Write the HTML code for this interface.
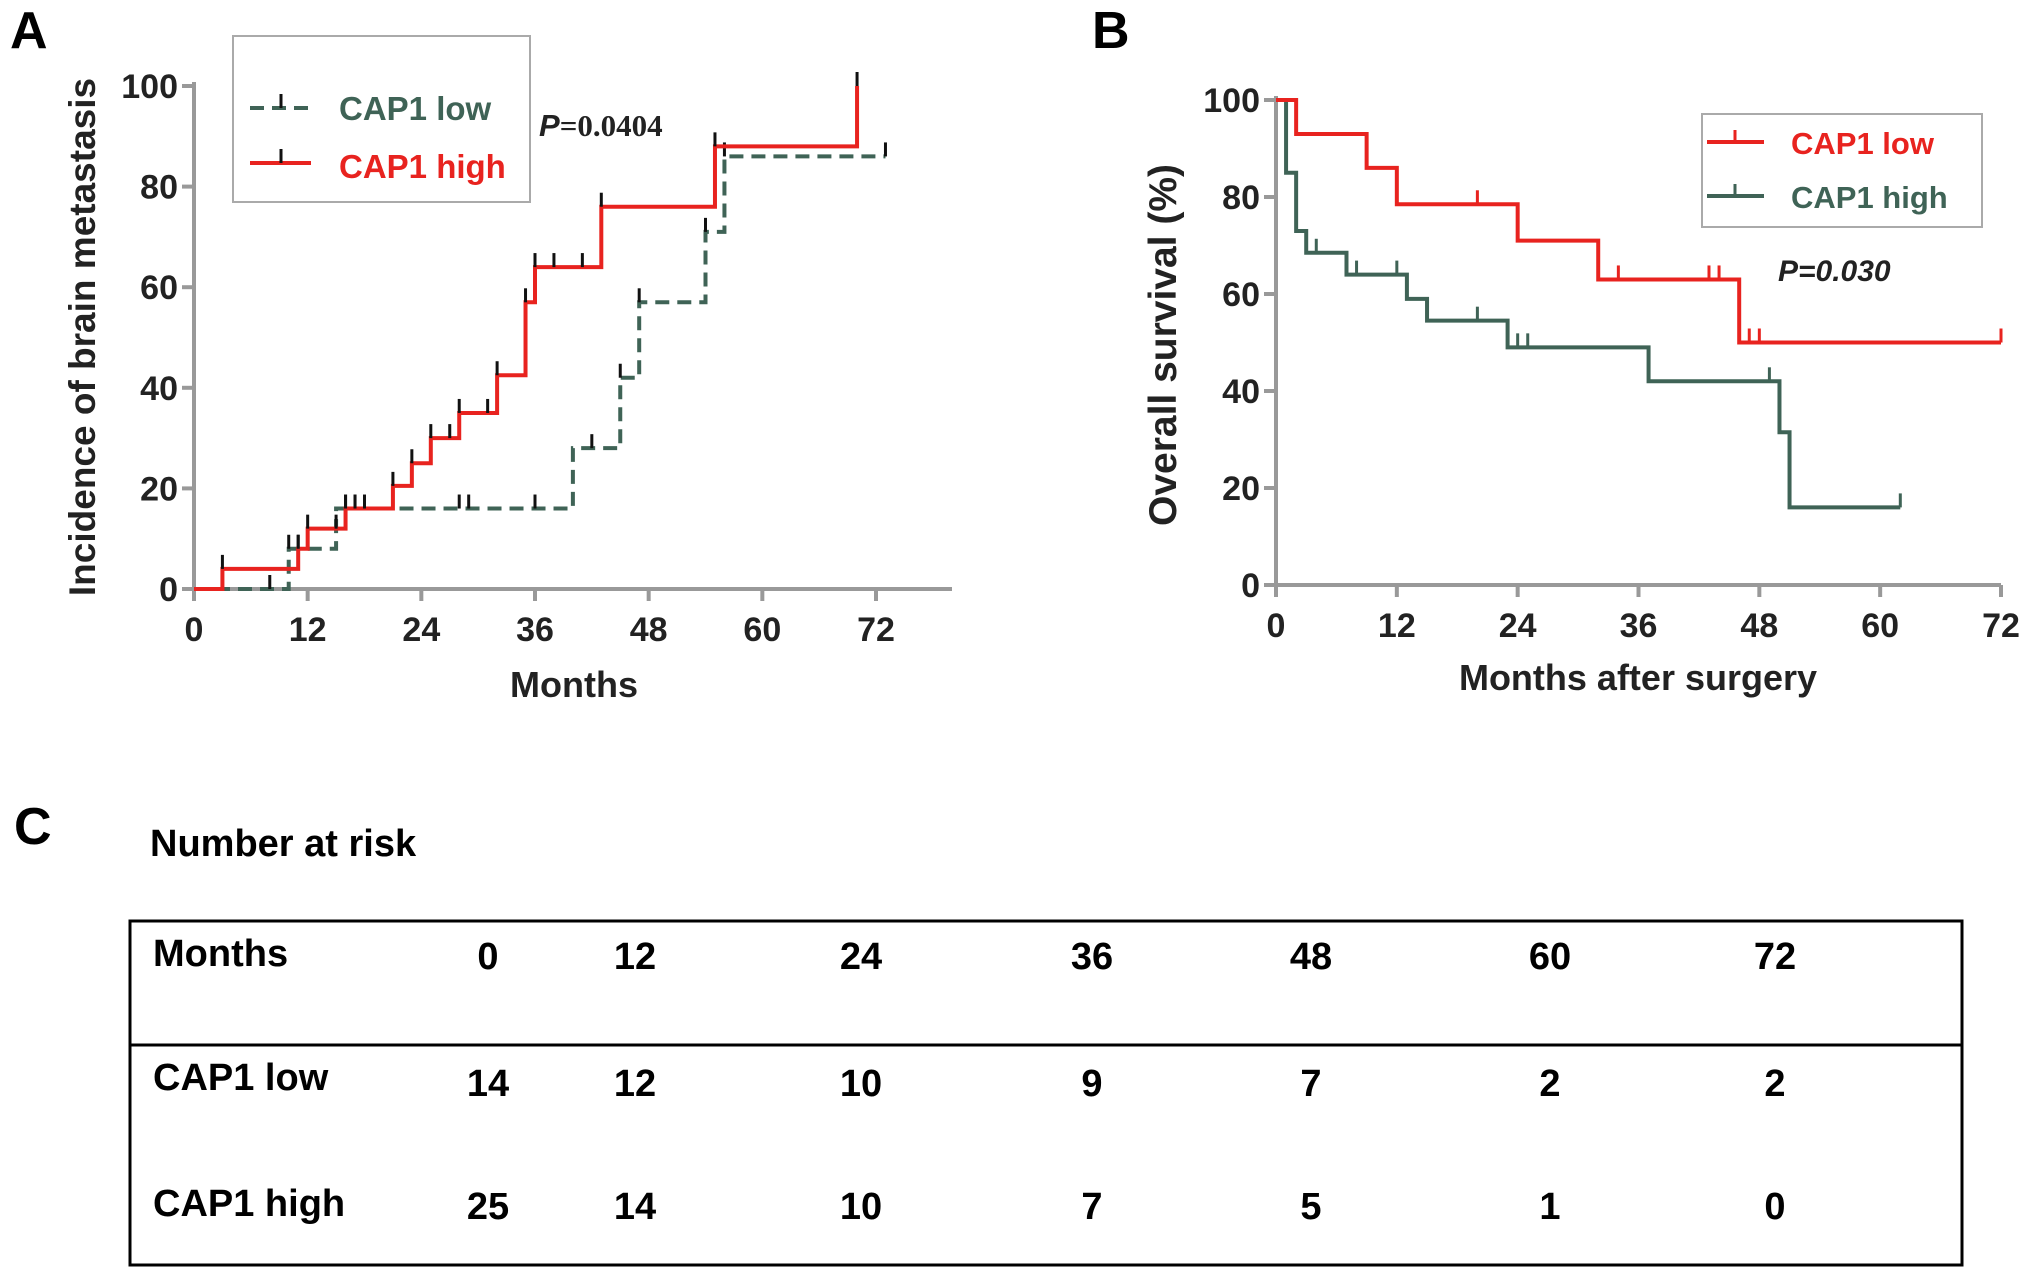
<!DOCTYPE html>
<html><head><meta charset="utf-8"><style>
body{margin:0;background:#fff;width:2031px;height:1281px;overflow:hidden;font-family:"Liberation Sans",sans-serif}
svg{position:absolute;left:0;top:0}
text{font-family:"Liberation Sans",sans-serif;font-weight:bold}
</style></head><body>
<svg id="s" width="2031" height="1281">
<text x="10" y="48" font-size="52">A</text>
<text x="1092" y="48" font-size="52">B</text>
<text x="14" y="844" font-size="52">C</text>
<text x="150" y="856" font-size="38">Number at risk</text>
<g id="A"></g><g id="B"></g>
<rect x="130" y="921" width="1832" height="344" fill="none" stroke="#000" stroke-width="3"/>
<line x1="130" y1="1045" x2="1962" y2="1045" stroke="#000" stroke-width="3"/>
<g id="T" font-size="38"></g>
</svg>
<script>
const NS="http://www.w3.org/2000/svg";
function mk(p,tag,attrs,txt){const e=document.createElementNS(NS,tag);for(const k in attrs)e.setAttribute(k,attrs[k]);if(txt!==undefined)e.textContent=txt;p.appendChild(e);return e;}
const RED="#e8231f",GRN="#3f6356";
// Panel A data
const aTicks=[0,12,24,36,48,60,72];
const aYTicks=[0,20,40,60,80,100];
const aHighT=[0,3,11,12,16,21,23,25,28,32,35,36,43,55,70];
const aHighV=[0,4,8,12,16,20.5,25,30,35,42.5,57,64,76,88,100];
const aHighEnd=70;
const aHighCens=[3,11,12,15,16,17,18,21,23,25,27,28,31,32,35,36,38,41,43,55,70];
const aLowT=[0,10,15,40,45,47,54,56];
const aLowV=[0,8,16,28,42,57,71,86];
const aLowEnd=73;
const aLowCens=[8,10,11,16,17,28,29,36,42,45,47,54,56,73];
// Panel B data
const bTicks=[0,12,24,36,48,60,72];
const bYTicks=[0,20,40,60,80,100];
const bLowT=[0,2,9,12,24,32,46];
const bLowV=[100,93,86,78.5,71,63,50];
const bLowEnd=72;
const bLowCens=[20,34,43,44,47,48,72];
const bHighT=[0,1,2,3,7,13,15,23,37,50,51];
const bHighV=[100,85,73,68.5,64,59,54.5,49,42,31.5,16];
const bHighEnd=62;
const bHighCens=[4,8,12,20,24,25,49,62];
// Table data
const cols=["0","12","24","36","48","60","72"];
const lowRisk=[14,12,10,9,7,2,2];
const highRisk=[25,14,10,7,5,1,0];

function valAt(T,V,t){let v=V[0];for(let i=0;i<T.length;i++)if(T[i]<=t)v=V[i];return v;}
function panel(g,ax,xt,yt,series,name){
  const X=t=>ax.x0+(t/72)*(ax.x1-ax.x0), Y=v=>ax.y0+(v/100)*(ax.y1-ax.y0);
  mk(g,'line',{x1:ax.x0,y1:Y(0),x2:ax.xe,y2:Y(0),stroke:'#999','stroke-width':4,});
  mk(g,'line',{x1:ax.x0,y1:Y(0),x2:ax.x0,y2:Y(100)-4,stroke:'#999','stroke-width':4,});
  xt.forEach(t=>{mk(g,'line',{x1:X(t),y1:Y(0),x2:X(t),y2:Y(0)+12,stroke:'#999','stroke-width':4});
    const e=mk(g,'text',{x:X(t),y:Y(0)+52,'font-size':34,'text-anchor':'middle',fill:'#222'},t);
    
    });
  yt.forEach(v=>{mk(g,'line',{x1:ax.x0-12,y1:Y(v),x2:ax.x0,y2:Y(v),stroke:'#999','stroke-width':4});
    const e=mk(g,'text',{x:ax.x0-16,y:Y(v)+12,'font-size':34,'text-anchor':'end',fill:'#222'},v);
    
    });
  series.forEach(s=>{
    let d=`M${X(0)},${Y(s.V[0])}`;
    for(let i=1;i<s.T.length;i++)d+=`H${X(s.T[i])}V${Y(s.V[i])}`;
    d+=`H${X(s.end)}`;
    const p=mk(g,'path',{d:d,fill:'none',stroke:s.c,'stroke-width':4});
    if(s.dash)p.setAttribute('stroke-dasharray','14 8');
    
    
    s.cens.forEach(t=>{const v=valAt(s.T,s.V,t);
      const l=mk(g,'line',{x1:X(t),y1:Y(v),x2:X(t),y2:Y(v)-14,stroke:s.tc,'stroke-width':3});
      
      });
  });
}
const A=document.getElementById('A'),B=document.getElementById('B');
panel(A,{x0:194,x1:876,xe:952,y0:589,y1:86},aTicks,aYTicks,[
 {T:aLowT,V:aLowV,end:aLowEnd,cens:aLowCens,c:GRN,tc:'#111',dash:true,n:'cap1-low-curve-a'},
 {T:aHighT,V:aHighV,end:aHighEnd,cens:aHighCens,c:RED,tc:'#111',n:'cap1-high-curve-a'}],'panel-a');
panel(B,{x0:1276,x1:2001,xe:2001,y0:585,y1:100},bTicks,bYTicks,[
 {T:bHighT,V:bHighV,end:bHighEnd,cens:bHighCens,c:GRN,tc:GRN,n:'cap1-high-curve-b'},
 {T:bLowT,V:bLowV,end:bLowEnd,cens:bLowCens,c:RED,tc:RED,n:'cap1-low-curve-b'}],'panel-b');
// axis titles
mk(A,'text',{x:0,y:0,'font-size':37,'text-anchor':'middle',fill:'#222',transform:'translate(95,337) rotate(-90)',},'Incidence of brain metastasis');
mk(A,'text',{x:574,y:697,'font-size':36,'text-anchor':'middle',fill:'#222',},'Months');
mk(B,'text',{x:0,y:0,'font-size':39,'text-anchor':'middle',fill:'#222',transform:'translate(1176,345) rotate(-90)',},'Overall survival (%)');
mk(B,'text',{x:1638,y:690,'font-size':36,'text-anchor':'middle',fill:'#222',},'Months after surgery');
// legends
mk(A,'rect',{x:233,y:36,width:297,height:166,fill:'#fff',stroke:'#aaa','stroke-width':2,});
mk(A,'line',{x1:250,y1:108,x2:311,y2:108,stroke:GRN,'stroke-width':4,'stroke-dasharray':'14 8'});
mk(A,'line',{x1:281,y1:108,x2:281,y2:94,stroke:'#111','stroke-width':3});
mk(A,'text',{x:339,y:120,'font-size':33,fill:GRN,},'CAP1 low');
mk(A,'line',{x1:250,y1:163,x2:311,y2:163,stroke:RED,'stroke-width':4});
mk(A,'line',{x1:281,y1:163,x2:281,y2:149,stroke:'#111','stroke-width':3});
mk(A,'text',{x:339,y:178,'font-size':33,fill:RED,},'CAP1 high');
const pa=mk(A,'text',{x:539,y:136,'font-size':31,fill:'#222','font-family':'Liberation Serif'});

mk(pa,'tspan',{'font-style':'italic','font-family':'Liberation Sans'},'P');mk(pa,'tspan',{'font-family':'Liberation Serif'},'=0.0404');
mk(B,'rect',{x:1702,y:114,width:280,height:113,fill:'#fff',stroke:'#aaa','stroke-width':2,});
mk(B,'line',{x1:1707,y1:142,x2:1764,y2:142,stroke:RED,'stroke-width':4});
mk(B,'line',{x1:1735,y1:142,x2:1735,y2:130,stroke:RED,'stroke-width':3});
mk(B,'text',{x:1791,y:154,'font-size':31,fill:RED,},'CAP1 low');
mk(B,'line',{x1:1707,y1:196,x2:1764,y2:196,stroke:GRN,'stroke-width':4});
mk(B,'line',{x1:1735,y1:196,x2:1735,y2:184,stroke:GRN,'stroke-width':3});
mk(B,'text',{x:1791,y:208,'font-size':31,fill:GRN,},'CAP1 high');
mk(B,'text',{x:1778,y:281,'font-size':30,'font-style':'italic',fill:'#222',},'P=0.030');
// table
const T=document.getElementById('T');
const cx=[488,635,861,1092,1311,1550,1775];
mk(T,'text',{x:153,y:966,},'Months');
mk(T,'text',{x:153,y:1090,},'CAP1 low');
mk(T,'text',{x:153,y:1216,},'CAP1 high');
cols.forEach((c,i)=>{
 const a=mk(T,'text',{x:cx[i],y:969,'text-anchor':'middle'},c);
 
 const b=mk(T,'text',{x:cx[i],y:1096,'text-anchor':'middle'},lowRisk[i]);
 
 const d=mk(T,'text',{x:cx[i],y:1219,'text-anchor':'middle'},highRisk[i]);
 
});
</script>
</body></html>
